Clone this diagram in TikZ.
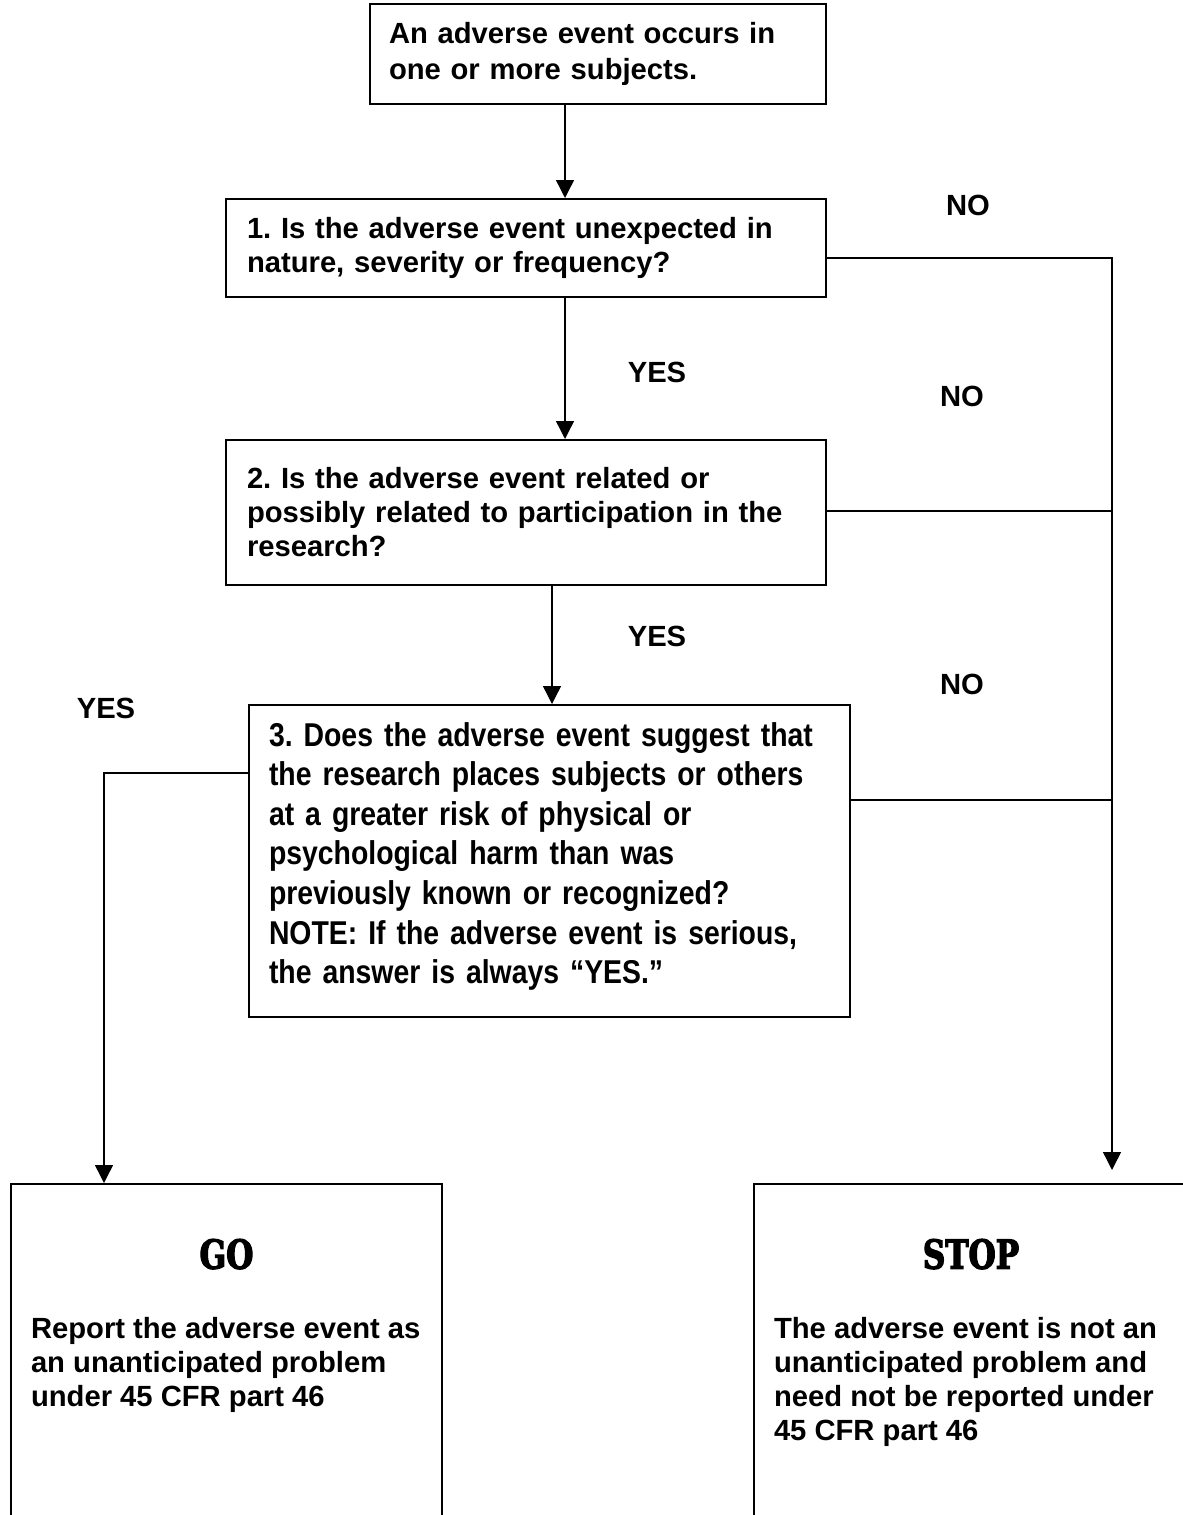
\documentclass[tikz,border=0pt]{standalone}
\usepackage{fontspec}
\setmainfont{Liberation Sans}
\newfontfamily\tallfont{Liberation Sans Bold}[FakeStretch=0.86]
\newfontfamily\signfont{DejaVu Serif Bold}[FakeStretch=0.78,FakeBold=3]
\usetikzlibrary{arrows.meta}

\tikzset{
  qbox/.style={draw=black,line width=1pt,anchor=north west,align=left,
    font=\bfseries\fontsize{14.6pt}{17pt}\selectfont},
  endbox/.style={draw=black,line width=1pt,anchor=north west,inner sep=0pt},
  answer/.style={font=\bfseries\fontsize{14.6pt}{17pt}\selectfont},
  arr/.style={-{Triangle[width=9pt,length=9pt]},line width=0.7pt},
  link/.style={line width=0.7pt}
}

\begin{document}
\frenchspacing
\begin{tikzpicture}[x=0.5pt,y=-0.5pt]
\useasboundingbox (0,0) rectangle (1183,1515);
\clip (0,0) rectangle (1183,1515);
% question boxes
\node at (369,3) [qbox,inner xsep=9.5pt,text width=209pt,minimum height=50pt,
  font=\bfseries\fontsize{14.6pt}{18pt}\selectfont] (Start)
  {An adverse event occurs in\\one or more subjects.};
\node at (225,198) [qbox,inner xsep=10.5pt,text width=279pt,minimum height=49pt] (Q1)
  {1. Is the adverse event unexpected in\\nature, severity or frequency?};
\node at (225,439) [qbox,inner xsep=10.5pt,text width=279pt,minimum height=72.5pt] (Q2)
  {2. Is the adverse event related or\\possibly related to participation in the\\research?};
\node at (248,704) [qbox,inner xsep=10pt,text width=280.5pt,minimum height=156pt,
  font=\tallfont\fontsize{16.5pt}{19.8pt}\selectfont] (Q3)
  {3. Does the adverse event suggest that\\the research places subjects or others\\at a greater risk of physical or\\psychological harm than was\\previously known or recognized?\\NOTE: If the adverse event is serious,\\the answer is always “YES.”\\[-11.8pt]\mbox{}};
% end boxes
\node at (10,1183) [endbox] (Go) {\parbox[t][180pt][t]{215.5pt}{\vspace*{27.5pt}%
  \centering\signfont\fontsize{20pt}{24pt}\selectfont GO\par\vspace{18pt}%
  \raggedright\leftskip=10pt\normalfont\bfseries\fontsize{14.6pt}{17pt}\selectfont
  Report the adverse event as\\an unanticipated problem\\under 45 CFR part 46\par}};
\node at (753,1183) [endbox] (Stop) {\parbox[t][180pt][t]{217pt}{\vspace*{27.5pt}%
  \centering\signfont\fontsize{20pt}{24pt}\selectfont STOP\par\vspace{18pt}%
  \raggedright\leftskip=10pt\normalfont\bfseries\fontsize{14.6pt}{17pt}\selectfont
  The adverse event is not an\\unanticipated problem and\\need not be reported under\\45 CFR part 46\par}};
% answers
\node[answer] (No1) at (968,205) {NO};
\node[answer] (Yes1) at (657,372) {YES};
\node[answer] (No2) at (962,396) {NO};
\node[answer] (Yes2) at (657,636) {YES};
\node[answer] (No3) at (962,684) {NO};
\node[answer] (Yes3) at (106,708) {YES};
% connectors
\coordinate (ColA) at (565,0);
\coordinate (ColB) at (552,0);
\coordinate (ColL) at (104,0);
\coordinate (ColR) at (1112,0);
\coordinate (RowA) at (0,258);
\coordinate (RowB) at (0,511);
\coordinate (RowC) at (0,800);
\coordinate (RowD) at (0,773);
\draw[arr] (Start.south -| ColA) -- (Q1.north -| ColA);
\draw[arr] (Q1.south -| ColA) -- (Q2.north -| ColA);
\draw[arr] (Q2.south -| ColB) -- (Q3.north -| ColB);
\draw[arr,shorten >=6.5pt] (Q1.east |- RowA) -| (Stop.north -| ColR);
\draw[link] (Q2.east |- RowB) -- (ColR |- RowB);
\draw[link] (Q3.east |- RowC) -- (ColR |- RowC);
\draw[arr] (Q3.west |- RowD) -| (Go.north -| ColL);
\end{tikzpicture}
\end{document}
